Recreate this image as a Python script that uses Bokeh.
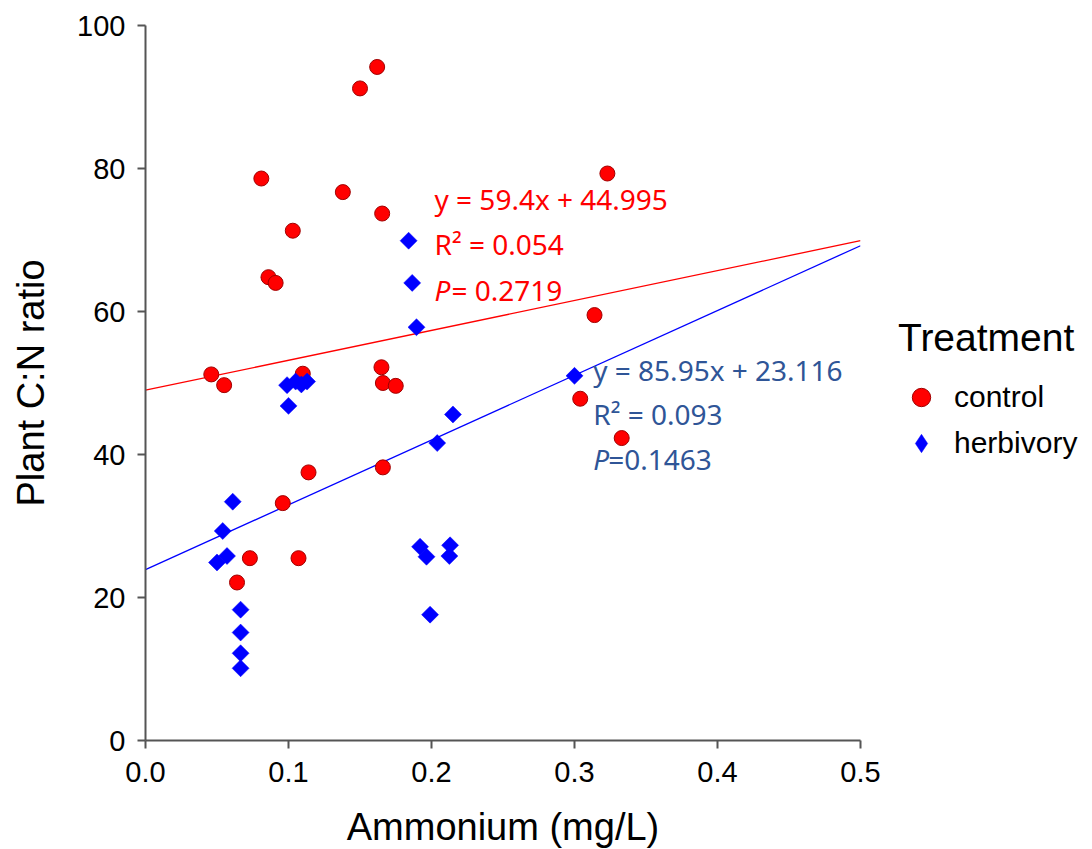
import numpy as np
from bokeh.plotting import figure
from bokeh.models import Range1d, Legend, LegendItem, FixedTicker, Label, ColumnDataSource, NumeralTickFormatter
from bokeh.core.properties import value
from bokeh.embed import file_html
from bokeh.resources import INLINE

# ---------------- data ----------------
control_x = [0.162, 0.150, 0.081, 0.138, 0.1655, 0.103, 0.086, 0.091, 0.323, 0.314,
             0.304, 0.333, 0.046, 0.055, 0.110, 0.114, 0.096, 0.073, 0.107, 0.064,
             0.165, 0.166, 0.175, 0.166]
control_y = [94.2, 91.2, 78.6, 76.7, 73.7, 71.3, 64.8, 64.0, 79.3, 59.5,
             47.8, 42.3, 51.2, 49.7, 51.3, 37.5, 33.2, 25.5, 25.5, 22.1,
             52.2, 50.0, 49.6, 38.2]
herb_x = [0.184, 0.1865, 0.1895, 0.300, 0.100, 0.099, 0.105, 0.109, 0.113, 0.061,
          0.054, 0.057, 0.050, 0.0665, 0.0665, 0.0665, 0.0665, 0.215, 0.204, 0.192,
          0.1965, 0.213, 0.2125, 0.199]
herb_y = [69.9, 64.0, 57.8, 51.0, 46.8, 49.7, 50.2, 49.8, 50.2, 33.4,
          29.3, 25.8, 24.9, 18.3, 15.1, 12.2, 10.1, 45.6, 41.6, 27.1,
          25.7, 27.3, 25.8, 17.6]

# fitted lines as drawn in the reference (endpoints at x = 0 and x = 0.5)
fit_x = [0.0, 0.5]
control_fit_y = [49.0, 69.9]
herb_fit_y = [23.9, 69.2]

x_ticks = [0.0, 0.1, 0.2, 0.3, 0.4, 0.5]
y_ticks = [0, 20, 40, 60, 80, 100]

control_eq = ["y = 59.4x + 44.995", "R\u00b2 = 0.054", "P", "= 0.2719"]
herb_eq = ["y = 85.95x + 23.116", "R\u00b2 = 0.093", "P", "=0.1463"]

# ---------------- styling ----------------
AX_FONT = "Liberation Sans"
EQ_FONT = "Noto Sans"
RED = "#ff0000"
BLUE = "#0000ff"
TXT_BLUE = "#2f5597"
AX_COLOR = "#555555"

p = figure(frame_width=715, frame_height=715,
           min_border_left=145, min_border_right=232, min_border_top=25, min_border_bottom=109,
           x_range=Range1d(0, 0.5), y_range=Range1d(0, 100),
           output_backend="svg", toolbar_location=None)
p.grid.visible = False
p.outline_line_color = None
p.background_fill_color = "white"
p.border_fill_color = "white"

for ax in (p.xaxis[0], p.yaxis[0]):
    ax.axis_line_color = AX_COLOR
    ax.axis_line_width = 2
    ax.major_tick_line_color = AX_COLOR
    ax.major_tick_line_width = 2
    ax.major_tick_out = 8
    ax.major_tick_in = 0
    ax.minor_tick_line_color = None
    ax.major_label_text_font = AX_FONT
    ax.major_label_text_font_size = "29px"
    ax.major_label_text_color = "black"
    ax.axis_label_text_font = AX_FONT
    ax.axis_label_text_font_size = "38px"
    ax.axis_label_text_font_style = "normal"
    ax.axis_label_text_color = "black"

p.xaxis.ticker = FixedTicker(ticks=x_ticks)
p.xaxis.formatter = NumeralTickFormatter(format="0.0")
p.yaxis.ticker = FixedTicker(ticks=y_ticks)
p.xaxis.major_label_standoff = 13
p.yaxis.major_label_standoff = 12
p.xaxis.axis_label = "Ammonium (mg/L)"
p.yaxis.axis_label = "Plant C:N ratio"
p.xaxis.axis_label_standoff = 21
p.yaxis.axis_label_standoff = 22

# regression lines
p.line(fit_x, control_fit_y, line_color=RED, line_width=1.3)
p.line(fit_x, herb_fit_y, line_color=BLUE, line_width=1.3)

# points
src_c = ColumnDataSource(dict(x=control_x, y=control_y))
src_h = ColumnDataSource(dict(x=herb_x, y=herb_y))
r_c = p.scatter("x", "y", source=src_c, marker="circle", size=15,
                fill_color=RED, line_color="#a00000", line_width=1)
r_h = p.scatter("x", "y", source=src_h, marker="square", size=12, angle=np.pi / 4,
                fill_color=BLUE, line_color=BLUE, line_width=0.5)
# legend key for the rotated squares (legend glyphs are never rotated); holds no visible point
r_h_key = p.scatter(x=[np.nan], y=[np.nan], marker="diamond",
                    fill_color=BLUE, line_color=BLUE, line_width=0.5)

# equations
EQ_SIZE = "28px"
def eq_block(lines, x, ys, color, p_offset):
    for txt, y in zip(lines[:2], ys[:2]):
        p.add_layout(Label(x=x, y=y, text=txt, text_font=EQ_FONT, text_font_size=EQ_SIZE,
                           text_color=color, text_baseline="alphabetic"))
    p.add_layout(Label(x=x, y=ys[2], text=lines[2], text_font=EQ_FONT, text_font_size=EQ_SIZE,
                       text_font_style="italic", text_color=color, text_baseline="alphabetic"))
    p.add_layout(Label(x=x, y=ys[2], x_offset=p_offset, text=lines[3], text_font=EQ_FONT,
                       text_font_size=EQ_SIZE, text_color=color, text_baseline="alphabetic"))

eq_block(control_eq, 0.2021, [75.7, 69.5, 63.0], RED, 17)
eq_block(herb_eq, 0.3131, [51.8, 45.6, 39.4], TXT_BLUE, 15)

# legend
legend = Legend(items=[LegendItem(label="control", renderers=[r_c]),
                       LegendItem(label="herbivory", renderers=[r_h_key])],
                title="Treatment", location=(38, 274))
legend.title_text_font = AX_FONT
legend.title_text_font_size = "39px"
legend.title_text_font_style = "normal"
legend.title_text_color = "black"
legend.title_standoff = 14
legend.label_text_font = AX_FONT
legend.label_text_font_size = "30px"
legend.label_text_color = "black"
legend.glyph_width = 46
legend.glyph_height = 46
legend.label_height = 30
legend.label_standoff = 10
legend.spacing = 0
legend.padding = 0
legend.margin = 0
legend.border_line_color = None
legend.background_fill_alpha = 0
p.add_layout(legend, "right")

open("out.html", "w").write(file_html(p, INLINE))
